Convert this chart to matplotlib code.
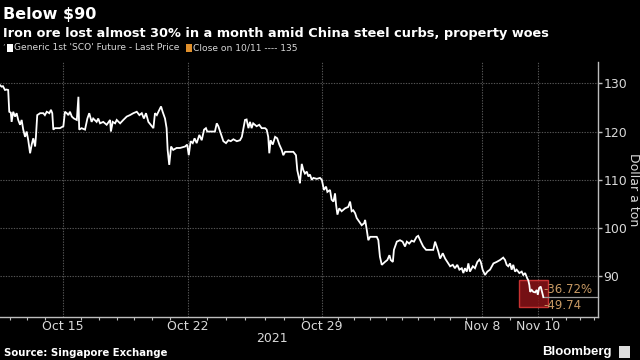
import numpy as np
import matplotlib
matplotlib.use("Agg")
import matplotlib.pyplot as plt
from matplotlib.patches import Rectangle

# ---- data (x in trading-day units, Oct 11 session = 0) ----
days = [1.61, 1.67, 1.72, 1.80, 1.86, 1.92, 1.96, 2.02, 2.05, 2.11, 2.18, 2.24, 2.30, 2.37, 2.43, 2.49,
        2.56, 2.62, 2.68, 2.75, 2.81, 2.87, 2.94, 2.97, 3.02, 3.13, 3.25, 3.31, 3.38, 3.48, 3.54, 3.59,
        3.63, 3.69, 3.88, 4.01, 4.07, 4.14, 4.20, 4.26, 4.33, 4.41, 4.52, 4.58, 4.61, 4.70, 4.83, 4.92,
        4.99, 5.08, 5.14, 5.27, 5.33, 5.40, 5.52, 5.65, 5.78, 5.81, 5.88, 5.97, 6.03, 6.16, 6.28, 6.41,
        6.53, 6.66, 6.79, 6.89, 6.98, 7.06, 7.14, 7.23, 7.36, 7.42, 7.48, 7.55, 7.61, 7.71, 7.77, 7.86,
        7.92, 7.96, 8.02, 8.09, 8.17, 8.30, 8.43, 8.62, 8.70, 8.76, 8.83, 8.91, 8.98, 9.06, 9.16, 9.25,
        9.34, 9.41, 9.46, 9.75, 9.82, 9.88, 9.97, 10.07, 10.17, 10.26, 10.35, 10.45, 10.58, 10.70, 10.77, 10.83,
        10.89, 10.95, 11.02, 11.08, 11.14, 11.20, 11.33, 11.43, 11.52, 11.65, 11.71, 11.77, 11.81, 11.86, 11.94, 12.03,
        12.11, 12.19, 12.28, 12.34, 12.41, 12.53, 12.72, 12.82, 12.87, 12.95, 12.97, 13.04, 13.10, 13.16, 13.23, 13.29,
        13.35, 13.42, 13.48, 13.61, 13.73, 13.80, 13.88, 13.96, 14.01, 14.11, 14.17, 14.24, 14.30, 14.34, 14.39, 14.46,
        14.55, 14.68, 14.80, 14.87, 14.93, 14.99, 15.06, 15.12, 15.22, 15.31, 15.40, 15.44, 15.50, 15.56, 15.63, 15.75,
        15.88, 15.94, 16.00, 16.07, 16.19, 16.28, 16.36, 16.41, 16.49, 16.53, 16.64, 16.76, 16.86, 16.95, 17.02, 17.11,
        17.20, 17.29, 17.39, 17.45, 17.55, 17.64, 17.75, 17.90, 18.02, 18.09, 18.15, 18.21, 18.28, 18.38, 18.47, 18.59,
        18.66, 18.76, 18.84, 18.93, 19.01, 19.10, 19.16, 19.22, 19.29, 19.35, 19.41, 19.52, 19.60, 19.69, 19.77, 19.82,
        19.89, 19.98, 20.07, 20.17, 20.30, 20.42, 20.55, 20.67, 20.74, 20.80, 20.86, 20.93, 20.99, 21.05, 21.12, 21.18,
        21.28, 21.37, 21.43, 21.50, 21.58, 21.62, 21.66, 21.69, 21.75, 21.81, 21.88, 21.94, 21.98, 22.03, 22.09, 22.14,
        22.19]
price = [129.6, 129.3, 129.4, 128.6, 128.7, 128.6, 124.1, 123.9, 122.0, 124.1, 123.1, 123.8, 122.4, 121.4, 122.4, 120.4,
         118.9, 120.0, 118.2, 115.5, 117.3, 118.6, 116.9, 118.9, 123.4, 123.8, 123.8, 123.4, 124.1, 123.8, 124.5, 123.8,
         120.4, 120.7, 120.7, 121.1, 124.1, 123.8, 123.4, 124.1, 123.1, 122.7, 122.4, 127.2, 120.4, 120.7, 120.4, 122.7,
         123.8, 122.0, 122.7, 122.0, 122.7, 121.7, 122.0, 121.4, 122.4, 120.0, 122.0, 121.7, 122.4, 121.7, 122.4, 123.1,
         123.4, 123.8, 124.1, 123.4, 123.8, 122.7, 123.8, 122.0, 121.1, 120.7, 123.8, 123.4, 124.1, 125.2, 124.1, 122.7,
         120.7, 116.2, 113.1, 116.9, 116.2, 116.6, 116.6, 116.9, 117.3, 115.1, 118.0, 117.6, 118.6, 117.6, 119.3, 118.2,
         120.4, 120.7, 120.0, 120.0, 121.7, 121.1, 119.6, 118.0, 117.6, 118.2, 118.0, 118.4, 118.0, 118.2, 118.9, 120.7,
         122.4, 122.5, 120.7, 122.0, 120.7, 121.7, 121.1, 121.4, 120.7, 120.7, 120.4, 118.9, 115.5, 118.2, 117.3, 118.9,
         118.6, 117.3, 116.2, 115.1, 115.8, 115.8, 115.8, 115.1, 112.0, 110.0, 109.3, 113.3, 112.0, 111.3, 111.7, 110.7,
         111.1, 110.0, 110.4, 110.2, 110.4, 110.0, 107.9, 108.6, 107.5, 107.9, 105.9, 105.5, 107.2, 104.8, 102.8, 104.1,
         103.5, 104.1, 104.4, 105.5, 103.5, 103.7, 103.1, 102.1, 101.3, 100.6, 101.0, 101.7, 99.7, 97.5, 98.2, 98.2,
         98.2, 97.5, 94.1, 92.4, 93.0, 93.4, 94.4, 93.4, 93.0, 95.5, 97.2, 97.5, 97.2, 96.2, 97.2, 96.8,
         97.4, 97.2, 98.2, 98.4, 97.2, 96.2, 95.5, 95.5, 95.5, 97.2, 96.2, 95.2, 93.7, 94.8, 93.7, 92.7,
         92.1, 92.4, 91.7, 92.4, 91.4, 91.7, 90.7, 91.7, 91.0, 92.7, 91.0, 92.1, 91.7, 93.0, 93.5, 93.0,
         91.4, 90.3, 91.0, 91.4, 92.7, 93.0, 93.4, 93.9, 93.4, 92.4, 92.1, 92.7, 91.4, 92.4, 91.0, 91.4,
         90.7, 91.0, 90.3, 90.7, 89.6, 89.2, 88.2, 86.8, 87.2, 86.8, 86.7, 87.2, 86.2, 87.6, 87.9, 86.8,
         85.72]

tick_pos = [4.0, 8.73, 13.81, 19.87, 21.99]
tick_labels = ["Oct 15", "Oct 22", "Oct 29", "Nov 8", "Nov 10"]
calendar_gaps = [7, 7, 10, 2]
y_ticks = [90, 100, 110, 120, 130]

prev_close = 135.46
change = -49.74
pct_change = -36.72
box_x = (21.27, 22.37)
box_y = (83.7, 89.3)

# ---- style ----
BG = "black"
GRID = "#555555"
AX = "#bdbdbd"
TXT = "#d9d9d9"
TAN = "#c89a64"
NARROW = ["Liberation Sans Narrow", "DejaVu Sans"]

fig = plt.figure(figsize=(6.4, 3.6), dpi=100, facecolor=BG)
ax = fig.add_axes([0, 1 - 317 / 360, 598 / 640, (317 - 62) / 360], facecolor=BG)

ax.plot(days, price, color="white", lw=1.3, solid_joinstyle="miter", zorder=3)

ax.set_xlim(1.61, 24.26)
ax.set_ylim(81.6, 134.4)

# grid
for y in y_ticks:
    ax.axhline(y, color=GRID, lw=0.8, ls=(0, (1.2, 1.2)), zorder=1)
for x in tick_pos:
    ax.axvline(x, color=GRID, lw=0.8, ls=(0, (1.2, 1.2)), zorder=1)

# spines
for s in ["top", "left"]:
    ax.spines[s].set_visible(False)
for s in ["right", "bottom"]:
    ax.spines[s].set_color(AX)
    ax.spines[s].set_linewidth(1.0)

ax.yaxis.tick_right()
ax.set_yticks(y_ticks)
ax.set_yticklabels([str(v) for v in y_ticks], family=NARROW, fontsize=9, color=TXT)
ax.tick_params(axis="y", colors=AX, length=3, width=1, pad=1, labelcolor=TXT)
fig.text(633 / 640, 1 - 190 / 360, "Dollar a ton", rotation=270, family=NARROW, fontsize=9,
         color=TXT, va="center", ha="center")

ax.set_xticks(tick_pos)
ax.set_xticklabels(tick_labels, family=NARROW, fontsize=9, color=TXT)
ax.tick_params(axis="x", colors=AX, length=0, pad=2.5, labelcolor=TXT)

# minor ticks: one per calendar day between majors
minor = []
step0 = (tick_pos[1] - tick_pos[0]) / calendar_gaps[0]
minor += list(np.arange(tick_pos[0], 1.61, -step0)[1:])
for a, b, g in zip(tick_pos[:-1], tick_pos[1:], calendar_gaps):
    minor += list(np.linspace(a, b, g + 1)[1:-1])
stepl = (tick_pos[4] - tick_pos[3]) / calendar_gaps[3] * 0.5
minor += list(np.arange(tick_pos[-1] + stepl, 24.2, stepl))
ax.set_xticks(minor, minor=True)
ax.tick_params(axis="x", which="minor", colors=AX, length=2.5, width=0.8)

# red highlight box
ax.add_patch(Rectangle((box_x[0], box_y[0]), box_x[1] - box_x[0], box_y[1] - box_y[0],
                       facecolor="#8a1418", edgecolor="#e23a3a", lw=1.0, alpha=0.85, zorder=2))
# last price line
ax.plot([days[-1], 24.26], [price[-1], price[-1]], color="#9a9a9a", lw=0.9, zorder=2, clip_on=False)
ax.text(22.2, price[-1] + 0.3, f"{pct_change:.2f}%", color=TAN, fontsize=8.5, family=NARROW,
        va="bottom", ha="left", zorder=4)
ax.text(22.2, price[-1] - 0.3, f"{change:.2f}", color=TAN, fontsize=8.5, family=NARROW,
        va="top", ha="left", zorder=4)

# titles
fig.text(0.004, 1 - 14 / 360, "Below $90", color="white", fontsize=11.5, fontweight="bold",
         family="DejaVu Sans", va="center", ha="left")
fig.text(0.004, 1 - 33 / 360,
         "Iron ore lost almost 30% in a month amid China steel curbs, property woes",
         color="white", fontsize=9.3, fontweight="bold", family="DejaVu Sans", va="center", ha="left")

# legend
ly = 1 - 48 / 360
fig.text(2 / 640, ly, "\u2019", color="#999999", fontsize=6, va="center", ha="left")
fig.patches.append(Rectangle((7 / 640, ly - 3.5 / 360), 6 / 640, 7 / 360, transform=fig.transFigure,
                             facecolor="white", edgecolor="none"))
fig.text(14 / 640, ly, "Generic 1st 'SCO' Future - Last Price", color=TXT, fontsize=6.6,
         family=NARROW, va="center", ha="left")
fig.patches.append(Rectangle((186 / 640, ly - 3.5 / 360), 6 / 640, 7 / 360, transform=fig.transFigure,
                             facecolor="#e0902c", edgecolor="none"))
fig.text(193 / 640, ly, f"Close on 10/11 ---- {round(prev_close)}", color=TXT, fontsize=6.6,
         family=NARROW, va="center", ha="left")

fig.text(272 / 640, 1 - 338 / 360, "2021", color=TXT, fontsize=9, family=NARROW, va="center", ha="center")

fig.text(4 / 640, 1 - 353 / 360, "Source: Singapore Exchange", color="white", fontsize=7.3,
         fontweight="bold", family="DejaVu Sans", va="center", ha="left")
fig.text(612 / 640, 1 - 352 / 360, "Bloomberg", color="white", fontsize=9.5, fontweight="bold",
         family="Liberation Sans", va="center", ha="right")
fig.patches.append(Rectangle((619 / 640, 1 - 358 / 360), 11 / 640, 12 / 360, transform=fig.transFigure,
                             facecolor="#dddddd", edgecolor="none"))

fig.savefig("out.png", dpi=100, facecolor=BG)
